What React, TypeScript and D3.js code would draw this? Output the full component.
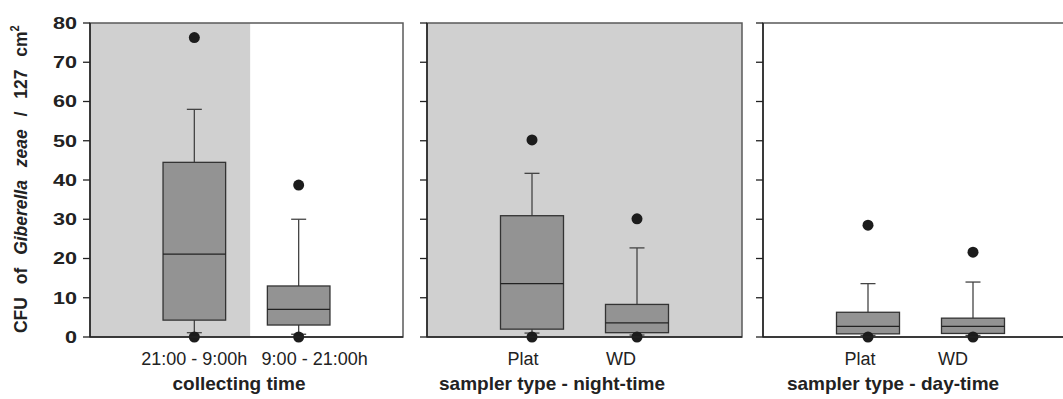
import React, { useRef, useEffect } from 'react';
import * as d3 from 'd3';

// categories per panel
const collectingCats = ['21:00 - 9:00h', '9:00 - 21:00h'];
const nightCats = ['Plat', 'WD'];
const dayCats = ['Plat', 'WD'];

// box statistics, one entry per category: [whiskerLow, q1, median, q3, whiskerHigh]
const collectingStats = [
  [1.1, 4.3, 21.1, 44.5, 58],
  [0.7, 3.05, 7.05, 13, 30],
];
const nightStats = [
  [1.0, 2.0, 13.6, 30.9, 41.7],
  [0.5, 1.1, 3.6, 8.3, 22.7],
];
const dayStats = [
  [0.4, 0.8, 2.7, 6.3, 13.6],
  [0.4, 0.9, 2.7, 4.8, 14],
];

// outliers per category
const collectingOut = [[0, 76.3], [0, 38.7]];
const nightOut = [[0, 50.2], [0, 30.1]];
const dayOut = [[0, 28.5], [0, 21.6]];

const yTicks = [0, 10, 20, 30, 40, 50, 60, 70, 80];

const FONT = "'Liberation Sans', Arial, Helvetica, sans-serif";

const App = () => {
  const svgRef = useRef<SVGSVGElement>(null);
  const W = 1063;
  const H = 399;
  const top = 23;
  const bottom = 337;

  useEffect(() => {
    const svg = d3.select(svgRef.current);
    svg.selectAll('*').remove();

    const y = d3.scaleLinear().domain([0, 80]).range([bottom, top]);

    const panels = [
      { left: 90, right: 403, cats: collectingCats, stats: collectingStats, outs: collectingOut,
        shade: 'half', title: 'collecting time', titleX: 239, labelDx: [0, 16], yLabels: true },
      { left: 427, right: 742, cats: nightCats, stats: nightStats, outs: nightOut,
        shade: 'full', title: 'sampler type - night-time', titleX: 552, labelDx: [-9, -16], yLabels: false },
      { left: 763, right: 1078, cats: dayCats, stats: dayStats, outs: dayOut,
        shade: 'none', title: 'sampler type - day-time', titleX: 893, labelDx: [-8, -20], yLabels: false },
    ];

    panels.forEach(p => {
      const x = d3.scalePoint<string>().domain(p.cats).range([p.left, p.right]).padding(1);
      const step = x.step();
      const g = svg.append('g');

      if (p.shade === 'full') {
        g.append('rect').attr('x', p.left).attr('y', top).attr('width', p.right - p.left)
          .attr('height', bottom - top).attr('fill', '#d0d0d0');
      } else if (p.shade === 'half') {
        g.append('rect').attr('x', p.left).attr('y', top)
          .attr('width', (x(p.cats[0]) as number) + step * 0.535 - p.left)
          .attr('height', bottom - top).attr('fill', '#d0d0d0');
      }

      // frame
      g.append('rect').attr('x', p.left).attr('y', top).attr('width', p.right - p.left)
        .attr('height', bottom - top).attr('fill', 'none').attr('stroke', '#5a5a5a').attr('stroke-width', 1.5);

      // boxes
      const bw = step * 0.6;
      const capW = 15;
      p.cats.forEach((c, i) => {
        const cx = x(c) as number;
        const [lo, q1, med, q3, hi] = p.stats[i];
        const bg = g.append('g');
        bg.append('line').attr('x1', cx).attr('x2', cx).attr('y1', y(q3)).attr('y2', y(hi))
          .attr('stroke', '#444').attr('stroke-width', 1.3);
        bg.append('line').attr('x1', cx - capW / 2).attr('x2', cx + capW / 2).attr('y1', y(hi)).attr('y2', y(hi))
          .attr('stroke', '#444').attr('stroke-width', 1.3);
        bg.append('line').attr('x1', cx).attr('x2', cx).attr('y1', y(q1)).attr('y2', y(lo))
          .attr('stroke', '#444').attr('stroke-width', 1.3);
        bg.append('line').attr('x1', cx - capW / 2).attr('x2', cx + capW / 2).attr('y1', y(lo)).attr('y2', y(lo))
          .attr('stroke', '#444').attr('stroke-width', 1.3);
        bg.append('rect').attr('x', cx - bw / 2).attr('y', y(q3)).attr('width', bw)
          .attr('height', y(q1) - y(q3)).attr('fill', '#939393').attr('stroke', '#333').attr('stroke-width', 1.3);
        bg.append('line').attr('x1', cx - bw / 2).attr('x2', cx + bw / 2).attr('y1', y(med)).attr('y2', y(med))
          .attr('stroke', '#222').attr('stroke-width', 1.3);
        bg.selectAll('circle.out').data(p.outs[i]).enter().append('circle')
          .attr('cx', cx).attr('cy', d => y(d)).attr('r', 5.5).attr('fill', '#1c1c1c');

        // category label
        g.append('text').attr('x', cx + p.labelDx[i]).attr('y', 365)
          .attr('text-anchor', 'middle').attr('font-family', FONT).attr('font-size', 18)
          .attr('fill', '#222').text(c);
      });

      // left axis + bottom
      g.append('line').attr('x1', p.left).attr('x2', p.left).attr('y1', top).attr('y2', bottom)
        .attr('stroke', '#222').attr('stroke-width', 1.5);
      g.append('line').attr('x1', p.left).attr('x2', p.right).attr('y1', bottom).attr('y2', bottom)
        .attr('stroke', '#222').attr('stroke-width', 1.5);
      g.selectAll('line.tick').data(yTicks).enter().append('line')
        .attr('x1', p.left - 7).attr('x2', p.left).attr('y1', d => y(d)).attr('y2', d => y(d))
        .attr('stroke', '#222').attr('stroke-width', 1.3);

      if (p.yLabels) {
        g.selectAll('text.ylab').data(yTicks).enter().append('text')
          .attr('transform', d => `translate(77,${y(d)}) scale(1.35,1)`)
          .attr('dy', '0.36em').attr('text-anchor', 'end')
          .attr('font-family', FONT).attr('font-weight', 'bold').attr('font-size', 16)
          .attr('fill', '#222').text(d => d);
      }

      g.append('text').attr('x', p.titleX).attr('y', 390).attr('text-anchor', 'middle')
        .attr('font-family', FONT).attr('font-weight', 'bold').attr('font-size', 19)
        .attr('fill', '#222').text(p.title);
    });

    // y axis title
    const t = svg.append('text')
      .attr('transform', 'translate(27,333) scale(1.1,1) rotate(-90)')
      .attr('text-anchor', 'start').attr('font-family', FONT).attr('font-weight', 'bold')
      .attr('font-size', 17.5).attr('fill', '#222').attr('word-spacing', 8);
    t.append('tspan').text('CFU of ');
    t.append('tspan').attr('font-style', 'italic').text('Giberella zeae');
    t.append('tspan').text(' / 127 cm');
    t.append('tspan').attr('font-size', 11).attr('dy', -7).text('2');
  }, []);

  return (
    <svg ref={svgRef} width={W} height={H}
      style={{ position: 'absolute', left: 0, top: 0, background: '#fff' }} />
  );
};

export default App;
